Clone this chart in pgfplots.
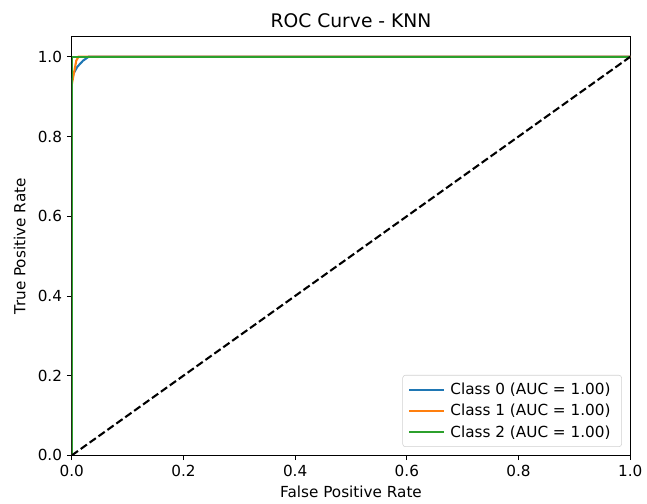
\documentclass[border=0pt]{standalone}
\usepackage{fontspec}
\setmainfont{DejaVu Sans}
\usepackage{pgfplots}
\pgfplotsset{compat=1.18}
\definecolor{c0}{HTML}{1F77B4}
\definecolor{c1}{HTML}{FF7F0E}
\definecolor{c2}{HTML}{2CA02C}
\begin{document}
\begin{tikzpicture}
\begin{axis}[
    name=ax,
    scale only axis,
    width=403pt, height=302pt,
    xmin=0, xmax=1, ymin=0, ymax=1.05,
    xtick={0,0.2,0.4,0.6,0.8,1.0},
    ytick={0,0.2,0.4,0.6,0.8,1.0},
    xticklabels={0.0,0.2,0.4,0.6,0.8,1.0},
    yticklabels={0.0,0.2,0.4,0.6,0.8,1.0},
    tick align=outside,
    tick style={black, line width=0.6pt},
    major tick length=3.5pt,
    axis line style={line width=0.6pt},
    xtick pos=bottom, ytick pos=left,
    ticklabel style={font=\fontsize{11}{13}\selectfont},
    xlabel={False Positive Rate},
    ylabel={True Positive Rate},
    xlabel style={font=\fontsize{11}{13}\selectfont, yshift=0pt},
    ylabel style={font=\fontsize{11}{13}\selectfont, yshift=2pt},
    title={ROC Curve - KNN},
    title style={font=\fontsize{13.5}{15}\selectfont, yshift=-3pt},
    legend style={at={(0.985,0.02)}, anchor=south east, font=\fontsize{11}{13}\selectfont,
        draw=black!18, rounded corners=2pt, inner xsep=4pt, inner ysep=3.5pt, row sep=1.5pt,
        nodes={inner xsep=4pt}},
    legend cell align=left,
    legend image code/.code={\draw[line width=1.5pt] (0pt,0pt) -- (25pt,0pt);},
]
\addplot[c0, line width=1.5pt] coordinates {(0,0) (0,0.95) (0.01,0.975) (0.02,0.99) (0.03,1.0) (1,1)};
\addlegendentry{Class 0 (AUC = 1.00)}
\addplot[c1, line width=1.5pt] coordinates {(0,0) (0,0.93) (0.004,0.96) (0.008,0.99) (0.012,1.0) (1,1)};
\addlegendentry{Class 1 (AUC = 1.00)}
\addplot[c2, line width=1.5pt] coordinates {(0,0) (0,1.0) (1,1)};
\addlegendentry{Class 2 (AUC = 1.00)}
\addplot[black, dashed, line width=1.5pt, dash pattern=on 5.5pt off 2.4pt, forget plot] coordinates {(0,0) (1,1)};
\end{axis}
\path (ax.south west) ++(-51.8pt,-34.6pt) rectangle ([shift={(10.8pt,26.6pt)}]ax.north east);
\end{tikzpicture}
\end{document}
